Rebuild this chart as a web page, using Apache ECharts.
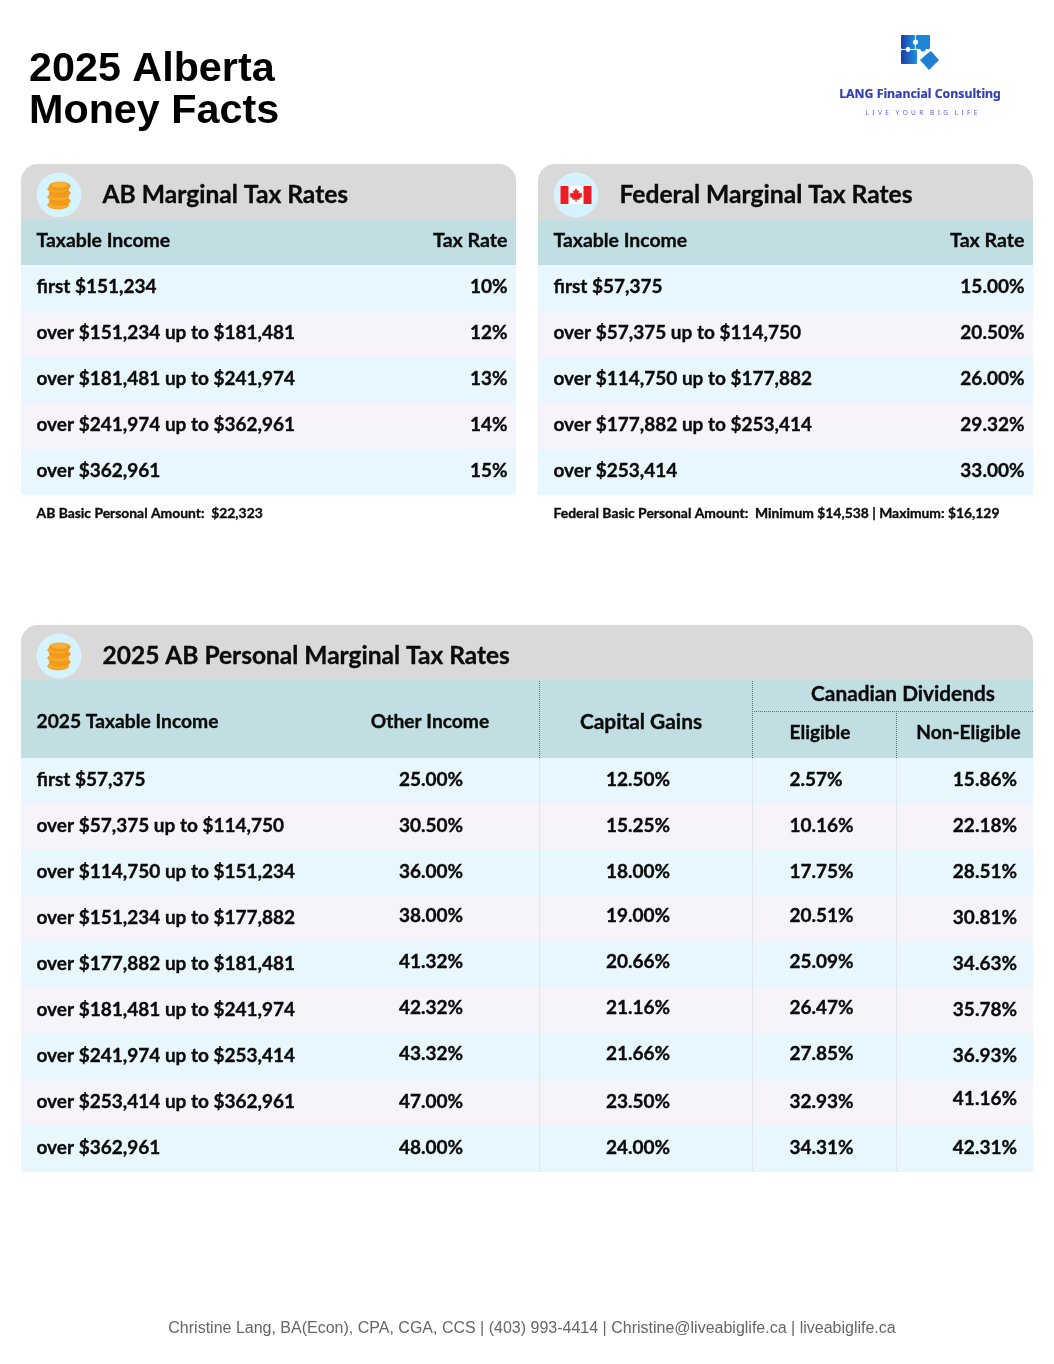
<!DOCTYPE html>
<html>
<head>
<meta charset="utf-8">
<title>2025 Alberta Money Facts</title>
<style>
html, body { margin: 0; padding: 0; background: #fff; }
#chartone { width: 1054px; height: 1364px; }
</style>
<script src="https://cdn.jsdelivr.net/npm/echarts@6/dist/echarts.min.js"></script>
</head>
<body>
<div id="chartone"></div>
<script>
// table contents
var abBrackets = ['first $151,234', 'over $151,234 up to $181,481', 'over $181,481 up to $241,974', 'over $241,974 up to $362,961', 'over $362,961'];
var abRates = ['10%', '12%', '13%', '14%', '15%'];
var fedBrackets = ['first $57,375', 'over $57,375 up to $114,750', 'over $114,750 up to $177,882', 'over $177,882 up to $253,414', 'over $253,414'];
var fedRates = ['15.00%', '20.50%', '26.00%', '29.32%', '33.00%'];
var combinedBrackets = ['first $57,375', 'over $57,375 up to $114,750', 'over $114,750 up to $151,234', 'over $151,234 up to $177,882', 'over $177,882 up to $181,481', 'over $181,481 up to $241,974', 'over $241,974 up to $253,414', 'over $253,414 up to $362,961', 'over $362,961'];
var otherIncome = ['25.00%', '30.50%', '36.00%', '38.00%', '41.32%', '42.32%', '43.32%', '47.00%', '48.00%'];
var capitalGains = ['12.50%', '15.25%', '18.00%', '19.00%', '20.66%', '21.16%', '21.66%', '23.50%', '24.00%'];
var eligibleDiv = ['2.57%', '10.16%', '17.75%', '20.51%', '25.09%', '26.47%', '27.85%', '32.93%', '34.31%'];
var nonEligibleDiv = ['15.86%', '22.18%', '28.51%', '30.81%', '34.63%', '35.78%', '36.93%', '41.16%', '42.31%'];

var LATO = 'Lato, "Noto Sans", sans-serif';
var ARIAL = '"Liberation Sans", Arial, sans-serif';
var chartDom = document.getElementById('chartone');
var myChart = echarts.init(chartDom, null, { renderer: 'canvas' });
var els = [];

function txt(x, y, s, size, align, color, weight, font, thick) {
  var fill = color || '#0b0b0b';
  els.push({
    type: 'text', x: x, y: y, silent: true,
    style: {
      text: s, fontSize: size, fontFamily: font || LATO, fontWeight: weight || 700,
      fill: fill, align: align || 'left', verticalAlign: 'middle',
      stroke: thick ? fill : null, lineWidth: thick || 0
    }
  });
}
// lato text, thickened a little to match the heavier source face
function lato(x, y, s, size, align) {
  txt(x, y, s, size, align, '#0b0b0b', 700, LATO, 0.35);
}
function rect(x, y, w, h, fill, r) {
  els.push({ type: 'rect', silent: true, shape: { x: x, y: y, width: w, height: h, r: r || 0 }, style: { fill: fill } });
}
function dotted(x1, y1, x2, y2, color) {
  els.push({ type: 'line', silent: true, shape: { x1: x1, y1: y1, x2: x2, y2: y2 }, style: { stroke: color, lineWidth: 1, lineDash: [1, 1] } });
}

// gold coin stack icon
function coins(cx, cy) {
  els.push({ type: 'circle', silent: true, shape: { cx: cx, cy: cy, r: 22.5 }, style: { fill: '#d5f3fd' } });
  var ys = [10, 6, 2, -2, -6, -9];
  for (var i = 0; i < ys.length; i++) {
    var dx = i % 2 ? 0.8 : -0.8;
    els.push({ type: 'ellipse', silent: true, shape: { cx: cx + dx, cy: cy + ys[i], rx: 10.5, ry: 4 }, style: { fill: i % 2 ? '#f39a1c' : '#f7a824', stroke: '#e8901a', lineWidth: 0.6 } });
  }
  els.push({ type: 'ellipse', silent: true, shape: { cx: cx + 0.5, cy: cy - 10, rx: 8, ry: 2.8 }, style: { fill: '#f9b233' } });
}

// canadian flag icon
function flag(cx, cy) {
  els.push({ type: 'circle', silent: true, shape: { cx: cx, cy: cy, r: 22.5 }, style: { fill: '#d5f3fd' } });
  rect(cx - 15.5, cy - 9, 31, 18, '#ffffff');
  rect(cx - 15.5, cy - 9, 8, 18, '#ee1c25');
  rect(cx + 7.5, cy - 9, 8, 18, '#ee1c25');
  els.push({
    type: 'polygon', silent: true,
    shape: { points: [[cx, cy - 7], [cx + 1.6, cy - 4], [cx + 3, cy - 4.8], [cx + 2.4, cy - 1.2], [cx + 4, cy - 2.8], [cx + 4.6, cy - 1.4], [cx + 6.4, cy - 1.8], [cx + 5.6, cy + 0.6], [cx + 6.4, cy + 1.2], [cx + 3.2, cy + 3.6], [cx + 3.6, cy + 4.8], [cx + 0.5, cy + 4.4], [cx + 0.5, cy + 7], [cx - 0.5, cy + 7], [cx - 0.5, cy + 4.4], [cx - 3.6, cy + 4.8], [cx - 3.2, cy + 3.6], [cx - 6.4, cy + 1.2], [cx - 5.6, cy + 0.6], [cx - 6.4, cy - 1.8], [cx - 4.6, cy - 1.4], [cx - 4, cy - 2.8], [cx - 2.4, cy - 1.2], [cx - 3, cy - 4.8], [cx - 1.6, cy - 4]] },
    style: { fill: '#ee1c25' }
  });
}

// rounded title card behind a table
function card(x, y, w, h, title, icon, size) {
  els.push({ type: 'rect', silent: true, shape: { x: x, y: y, width: w, height: h, r: [17, 17, 0, 0] }, style: { fill: '#d9d9d9' } });
  icon(x + 38, y + 31);
  lato(x + 81.5, y + 31.5, title, size);
}

function rowBands(x, w, top, count) {
  for (var i = 0; i < count; i++) {
    rect(x, top + i * 46, w, 46, i % 2 ? '#f6f4fa' : '#e8f6fe');
  }
}

// small rate table
function smallTable(x, brackets, rates, title, icon, note) {
  var w = 495;
  card(x, 164, w, 57, title, icon, 24.6);
  rect(x, 220, w, 45, '#c1dee3');
  lato(x + 15.5, 241, 'Taxable Income', 19.4);
  lato(x + 486.5, 241, 'Tax Rate', 19.6, 'right');
  rowBands(x, w, 265, brackets.length);
  for (var i = 0; i < brackets.length; i++) {
    lato(x + 15.5, 287 + i * 46, brackets[i], 19);
    lato(x + 486.5, 287 + i * 46, rates[i], 19, 'right');
  }
  lato(x + 15.5, 513.5, note, 13.88);
}

// page title
txt(29, 69.5, '2025 Alberta', 41.3, 'left', '#000', 700, ARIAL);
txt(29, 111.5, 'Money Facts', 41.3, 'left', '#000', 700, ARIAL);

// logo
var logoFill = new echarts.graphic.LinearGradient(0, 0, 1, 0, [{ offset: 0, color: '#1c3aa3' }, { offset: 1, color: '#1f93e0' }]);
els.push({ type: 'rect', silent: true, shape: { x: 901, y: 35, width: 14, height: 14, r: 1 }, style: { fill: logoFill } });
els.push({ type: 'rect', silent: true, shape: { x: 916, y: 35, width: 14, height: 14, r: 1 }, style: { fill: '#1f86d6' } });
els.push({ type: 'rect', silent: true, shape: { x: 901, y: 50, width: 16, height: 14, r: 1 }, style: { fill: logoFill } });
els.push({ type: 'circle', silent: true, shape: { cx: 915.5, cy: 42, r: 2.6 }, style: { fill: '#fff' } });
els.push({ type: 'circle', silent: true, shape: { cx: 908, cy: 49.5, r: 2.4 }, style: { fill: '#ffffff' } });
els.push({ type: 'circle', silent: true, shape: { cx: 923, cy: 49, r: 2.6 }, style: { fill: '#1f86d6' } });
els.push({ type: 'polygon', silent: true, shape: { points: [[920, 60], [928, 53], [931, 51], [939, 60], [929, 70]] }, style: { fill: '#1f7fd0' } });
txt(920, 94, 'LANG Financial Consulting', 12.3, 'center', '#3340b5', 700, '"Noto Sans", sans-serif', 0.2);
txt(921.5, 113.5, 'L  I  V  E    Y  O  U  R    B  I  G    L  I  F  E', 6.5, 'center', '#5862c4', 400, '"Noto Sans", sans-serif');

smallTable(21, abBrackets, abRates, 'AB Marginal Tax Rates', coins, 'AB Basic Personal Amount:  $22,323');
smallTable(538, fedBrackets, fedRates, 'Federal Marginal Tax Rates', flag, 'Federal Basic Personal Amount:  Minimum $14,538 | Maximum: $16,129');

// combined table
card(21, 625, 1012, 56, '2025 AB Personal Marginal Tax Rates', coins, 24.5);
rect(21, 680, 1012, 78, '#c1dee3');
rowBands(21, 1012, 758, combinedBrackets.length);

dotted(539.5, 681, 539.5, 758, '#4f6f95');
dotted(752.5, 681, 752.5, 758, '#4f6f95');
dotted(896.5, 711, 896.5, 758, '#4f6f95');
dotted(752, 711.5, 1033, 711.5, '#4f6f95');
dotted(539.5, 758, 539.5, 1172, '#d5dbe4');
dotted(752.5, 758, 752.5, 1172, '#d5dbe4');
dotted(896.5, 758, 896.5, 1172, '#d5dbe4');

lato(36.5, 721.5, '2025 Taxable Income', 19.25);
lato(430, 722, 'Other Income', 19.2, 'center');
lato(641, 722, 'Capital Gains', 20.9, 'center');
lato(903, 694, 'Canadian Dividends', 20.8, 'center');
lato(820, 733, 'Eligible', 19, 'center');
lato(968.5, 733, 'Non-Eligible', 19.1, 'center');

for (var i = 0; i < combinedBrackets.length; i++) {
  var y = 780 + i * 46;
  // the source nudges some cells by a couple of pixels
  var nudge = (i >= 3 && i <= 6) ? -2 : 0;
  var nudgeLast = i === 7 ? -3 : 0;
  lato(36.5, y, combinedBrackets[i], 19);
  lato(431, y + nudge, otherIncome[i], 19, 'center');
  lato(638, y + nudge, capitalGains[i], 19, 'center');
  lato(789.5, y + nudge, eligibleDiv[i], 19);
  lato(1017, y + nudgeLast, nonEligibleDiv[i], 19, 'right');
}

// footer
txt(532, 1328.5, 'Christine Lang, BA(Econ), CPA, CGA, CCS | (403) 993-4414 | Christine@liveabiglife.ca | liveabiglife.ca', 16, 'center', '#666666', 400, ARIAL);

var option = {
  animation: false,
  backgroundColor: '#ffffff',
  graphic: { elements: els }
};
option && myChart.setOption(option);
</script>
</body>
</html>
